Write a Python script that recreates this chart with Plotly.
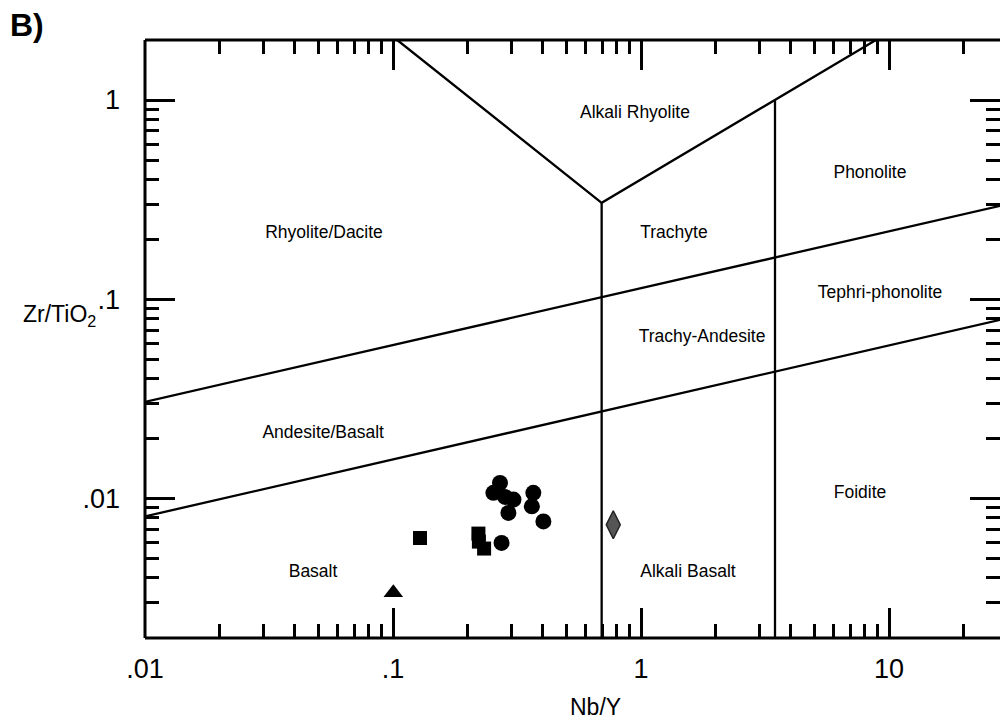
import plotly.graph_objects as go

# ---- data ----
circle_x = [0.270, 0.254, 0.283, 0.306, 0.368, 0.363, 0.292, 0.404, 0.274]
circle_y = [0.0120, 0.0107, 0.0102, 0.0099, 0.0107, 0.00915, 0.00848, 0.00769, 0.0060]
square_x = [0.1285, 0.221, 0.222, 0.233]
square_y = [0.00635, 0.00668, 0.00609, 0.00562]
triangle_x = [0.1003]
triangle_y = [0.00337]
diamond_x = [0.773]
diamond_y = [0.0074]

# field boundaries
upper_diag_x = [0.01, 30]
upper_diag_y = [0.0306, 0.300]
lower_diag_x = [0.01, 30]
lower_diag_y = [0.00815, 0.0804]
vert1_x = [0.694, 0.694]
vert1_y = [0.002, 0.305]
vert2_x = [3.47, 3.47]
vert2_y = [0.002, 1.0]
v_x = [0.104, 0.694, 8.86]
v_y = [2.0, 0.305, 2.0]

field_names = ["Alkali Rhyolite", "Phonolite", "Rhyolite/Dacite", "Trachyte",
               "Tephri-phonolite", "Trachy-Andesite", "Andesite/Basalt", "Foidite",
               "Basalt", "Alkali Basalt"]
field_x = [0.946, 8.38, 0.0527, 1.358, 9.2, 1.762, 0.0523, 7.64, 0.0476, 1.547]
field_y = [0.851, 0.4256, 0.213, 0.213, 0.1066, 0.0641, 0.0212, 0.0106, 0.00426, 0.00426]

major_ticks_x = [0.01, 0.1, 1, 10]
major_text_x = [".01", ".1", "1", "10"]
major_ticks_y = [0.01, 0.1, 1]
major_text_y = [".01", ".1", "1"]

minor_x = [k * 10 ** e for e in (-2, -1, 0, 1) for k in range(2, 10)]
minor_y = [k * 10 ** e for e in (-3, -2, -1, 0) for k in range(2, 10)]

FONT = "Liberation Sans, Arial, sans-serif"

fig = go.Figure()

line_style = dict(color="black", width=2.3)
for xs, ys in [(upper_diag_x, upper_diag_y), (lower_diag_x, lower_diag_y),
               (vert1_x, vert1_y), (vert2_x, vert2_y), (v_x, v_y)]:
    fig.add_trace(go.Scatter(x=xs, y=ys, mode="lines", line=line_style,
                             hoverinfo="skip", showlegend=False, cliponaxis=True))

fig.add_trace(go.Scatter(x=field_x, y=field_y, mode="text", text=field_names,
                         textfont=dict(family=FONT, size=17.5, color="black"),
                         textposition="middle center", showlegend=False, hoverinfo="skip"))

fig.add_trace(go.Scatter(x=circle_x, y=circle_y, mode="markers",
                         marker=dict(symbol="circle", size=16, color="black"), showlegend=False))
fig.add_trace(go.Scatter(x=square_x, y=square_y, mode="markers",
                         marker=dict(symbol="square", size=14, color="black"), showlegend=False))
fig.add_trace(go.Scatter(x=triangle_x, y=triangle_y, mode="markers",
                         marker=dict(symbol="triangle-up", size=17, color="black"), showlegend=False))
fig.add_trace(go.Scatter(x=diamond_x, y=diamond_y, mode="markers",
                         marker=dict(symbol="diamond-tall", size=20, color="#555555",
                                     line=dict(color="#222222", width=1.5)), showlegend=False))

axis_common = dict(
    type="log", showgrid=False, zeroline=False,
    showline=False, mirror="ticks",
    ticks="inside", ticklen=30, tickwidth=2.8, tickcolor="black",
    tickfont=dict(family=FONT, size=27, color="black"),
)

fig.update_xaxes(
    **axis_common,
    range=[-2, 1.4476],
    tickmode="array", tickvals=major_ticks_x, ticktext=major_text_x,
    ticklabelstandoff=12,
    minor=dict(ticks="inside", ticklen=14, tickwidth=2.8, tickcolor="black",
               tickmode="array", tickvals=minor_x, showgrid=False),
)
fig.update_yaxes(
    **axis_common,
    range=[-2.699, 0.301],
    tickmode="array", tickvals=major_ticks_y, ticktext=major_text_y,
    ticklabelstandoff=24,
    minor=dict(ticks="inside", ticklen=14, tickwidth=2.8, tickcolor="black",
               tickmode="array", tickvals=minor_y, showgrid=False),
)

# frame lines (left, bottom, top)
for x0, y0, x1, y1 in [(0, 0, 0, 1), (0, 0, 1, 0), (0, 1, 1, 1)]:
    fig.add_shape(type="line", xref="paper", yref="paper", x0=x0, y0=y0, x1=x1, y1=y1,
                  line=dict(color="black", width=3))

fig.add_annotation(text="Zr/TiO<sub>2</sub>", xref="paper", yref="paper",
                   x=-0.145, y=0.54, xanchor="left", yanchor="middle", showarrow=False,
                   font=dict(family=FONT, size=23, color="black"))
fig.add_annotation(text="Nb/Y", xref="paper", yref="paper",
                   x=0.527, y=-0.115, xanchor="center", yanchor="middle", showarrow=False,
                   font=dict(family=FONT, size=23, color="black"))
fig.add_annotation(text="<b>B)</b>", xref="paper", yref="paper",
                   x=-0.160, y=1.025, xanchor="left", yanchor="middle", showarrow=False,
                   font=dict(family=FONT, size=32, color="black"))

fig.update_layout(
    width=1001, height=721,
    margin=dict(l=145, r=1, t=40, b=83),
    plot_bgcolor="white", paper_bgcolor="white",
    showlegend=False,
)

fig.write_html("out.html")
